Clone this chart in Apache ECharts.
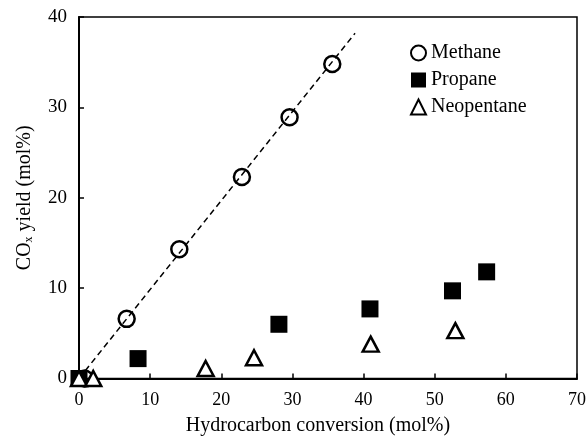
<!DOCTYPE html>
<html><head><meta charset="utf-8">
<script src="https://cdn.jsdelivr.net/npm/echarts@6/dist/echarts.min.js"></script>
<style>html,body{margin:0;padding:0;background:#fff}#c{width:587px;height:439px}</style>
</head><body><div id="c"></div>
<script>
const methaneX = [0.8, 6.7, 14.1, 22.9, 29.6, 35.6];
const methaneY = [0.0, 6.6, 14.3, 22.3, 28.9, 34.8];
const propaneX = [0, 8.3, 28.1, 40.9, 52.5, 57.3];
const propaneY = [0, 2.2, 6.0, 7.7, 9.7, 11.8];
const neoX = [0, 2.0, 17.8, 24.6, 41.0, 52.9];
const neoY = [0, 0, 1.1, 2.3, 3.8, 5.3];
const fitX = [0, 38.8];
const fitY = [0, 38.2];
const xTicks = [0, 10, 20, 30, 40, 50, 60, 70];
const yTicks = [0, 10, 20, 30, 40];

const zip = (a, b) => a.map((v, i) => [v, b[i]]);
const FONT = '"Liberation Serif", "Times New Roman", serif';
const chart = echarts.init(document.getElementById('c'));
chart.setOption({
  animation: false,
  backgroundColor: '#fff',
  textStyle: { fontFamily: FONT, color: '#000' },
  grid: { left: 79, right: 10, top: 17, bottom: 60.5, containLabel: false, outerBoundsMode: 'none',
    show: true, borderColor: '#000', borderWidth: 1.5, backgroundColor: 'transparent' },
  legend: {
    orient: 'vertical', left: 405, top: 38, itemGap: 7, itemWidth: 15, itemHeight: 15,
    textStyle: { fontFamily: FONT, fontSize: 20, color: '#000' },
    data: ['Methane', 'Propane', 'Neopentane']
  },
  xAxis: {
    type: 'value', min: xTicks[0], max: xTicks[xTicks.length - 1], interval: 10,
    name: 'Hydrocarbon conversion (mol%)', nameLocation: 'middle', nameGap: 37,
    nameTextStyle: { fontFamily: FONT, fontSize: 20, color: '#000', padding: [0, 20, 0, 0] },
    axisLine: { lineStyle: { color: '#000', width: 2 } },
    axisTick: { inside: true, length: 5, lineStyle: { color: '#000', width: 1.5 } },
    axisLabel: { fontFamily: FONT, fontSize: 18, color: '#000', margin: 13 },
    splitLine: { show: false }
  },
  yAxis: {
    type: 'value', min: yTicks[0], max: yTicks[yTicks.length - 1], interval: 10,
    name: '{n|CO}{s|x}{n| yield (mol%)}', nameLocation: 'middle', nameGap: 44,
    nameTextStyle: { fontFamily: FONT, color: '#000', rich: {
      n: { fontFamily: FONT, fontSize: 20, color: '#000' },
      s: { fontFamily: FONT, fontSize: 12, color: '#000', padding: [8, 0, 0, 0] } } },
    axisLine: { lineStyle: { color: '#000', width: 2 } },
    axisTick: { inside: true, length: 5, lineStyle: { color: '#000', width: 1.5 } },
    axisLabel: { fontFamily: FONT, fontSize: 19, color: '#000', margin: 12 },
    splitLine: { show: false }
  },
  series: [
    { type: 'line', name: 'fit', data: zip(fitX, fitY), showSymbol: false, symbol: 'none',
      lineStyle: { color: '#000', width: 1.5, type: [6, 4] }, silent: true, z: 1 },
    { type: 'scatter', name: 'Methane', data: zip(methaneX, methaneY), symbol: 'circle', symbolSize: 16, clip: false,
      itemStyle: { color: 'transparent', borderColor: '#000', borderWidth: 2.5, opacity: 1 }, z: 2 },
    { type: 'scatter', name: 'Propane', data: zip(propaneX, propaneY), symbol: 'rect', symbolSize: 17, clip: false,
      itemStyle: { color: '#000', borderColor: '#000', borderWidth: 0, opacity: 1 }, z: 3 },
    { type: 'scatter', name: 'Neopentane', data: zip(neoX, neoY), symbol: 'triangle', symbolSize: [16, 15], clip: false,
      itemStyle: { color: '#fff', borderColor: '#000', borderWidth: 2.5, opacity: 1 }, z: 4 }
  ]
});
</script></body></html>
